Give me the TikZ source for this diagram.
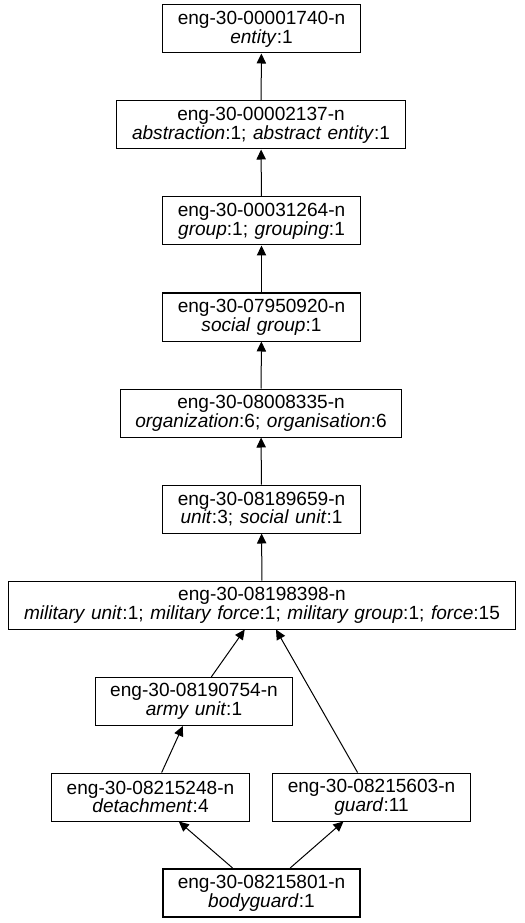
\documentclass[tikz,border=0pt]{standalone}
\usepackage{fontspec}
\setmainfont{Liberation Sans}[WordSpace=1.25]
\usetikzlibrary{arrows.meta}

\begin{document}
\begin{tikzpicture}[x=0.75pt,y=0.75pt,yscale=-1,xscale=1,
  synset/.style={draw,line width=0.75pt,align=center,inner xsep=11.3pt,inner ysep=0pt,
    minimum width=148pt,minimum height=36pt,font=\fontsize{14.3}{14}\selectfont},
  target/.style={synset,line width=1.6pt},
  hyper/.style={-{Triangle[length=7.5pt,width=7pt]},line width=0.75pt}]
\useasboundingbox (0,0) rectangle (524,923);

% Synset nodes
\node [synset] (entity) at (261.5,29) {eng-30-00001740-n\\\textit{entity}:1};
\node [synset] (abstraction) at (261,125) {eng-30-00002137-n\\\textit{abstraction}:1; \textit{abstract entity}:1};
\node [synset] (group) at (261.5,221) {eng-30-00031264-n\\\textit{group}:1; \textit{grouping}:1};
\node [synset] (socialgroup) at (261.5,317) {eng-30-07950920-n\\\textit{social group}:1};
\node [synset] (organization) at (261,413) {eng-30-08008335-n\\\textit{organization}:6; \textit{organisation}:6};
\node [synset] (unit) at (261.5,509) {eng-30-08189659-n\\\textit{unit}:3; \textit{social unit}:1};
\node [synset] (militaryunit) at (262,605) {eng-30-08198398-n\\\textit{military unit}:1; \textit{military force}:1; \textit{military group}:1; \textit{force}:15};
\node [synset] (armyunit) at (194,701.5) {eng-30-08190754-n\\\textit{army unit}:1};
\node [synset] (detachment) at (150.5,797) {eng-30-08215248-n\\\textit{detachment}:4};
\node [synset] (guard) at (371.5,797) {eng-30-08215603-n\\\textit{guard}:11};
\node [target] (bodyguard) at (261.5,893) {eng-30-08215801-n\\\textit{bodyguard}:1};

% Hypernym arrows
\draw [hyper] (abstraction) -- (entity);
\draw [hyper] (group) -- (abstraction);
\draw [hyper] (socialgroup) -- (group);
\draw [hyper] (organization) -- (socialgroup);
\draw [hyper] (unit) -- (organization);
\draw [hyper] (militaryunit) -- (unit);
\draw [hyper] (armyunit) -- (militaryunit);
\draw [hyper] (guard) -- (militaryunit);
\draw [hyper] (detachment) -- (armyunit);
\draw [hyper] (bodyguard) -- (detachment);
\draw [hyper] (bodyguard) -- (guard);

\end{tikzpicture}
\end{document}
